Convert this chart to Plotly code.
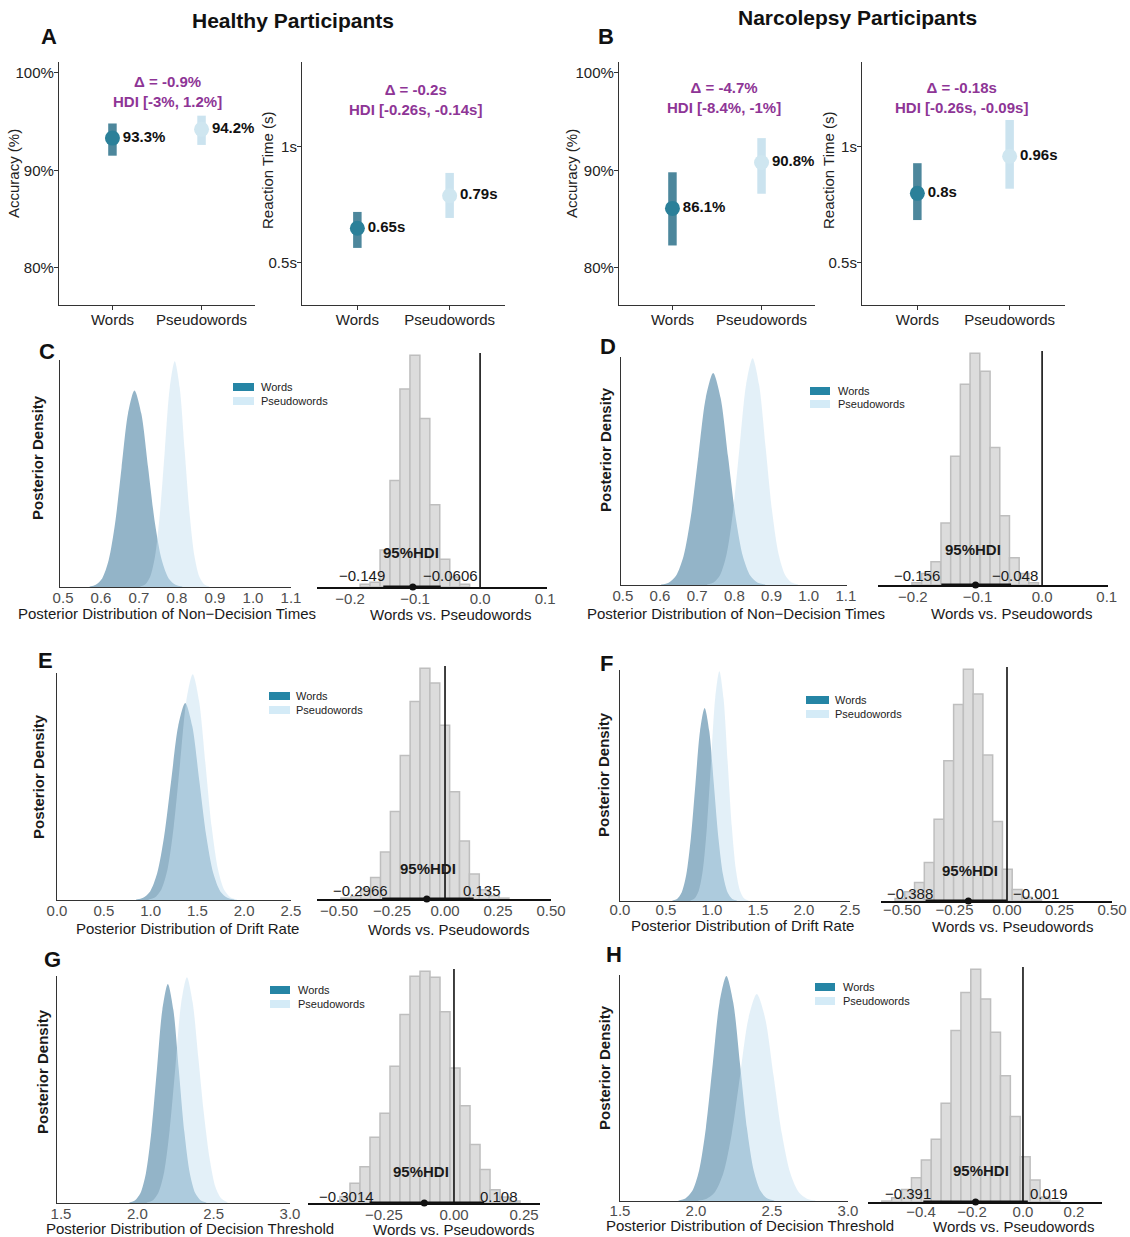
import plotly.graph_objects as go

W, H = 1130, 1237
FONT = "Liberation Sans"

# ---------------- data ----------------
conditions = ["Words", "Pseudowords"]
cond_pos = [1, 2]

# Row 1 : behavioural summaries (posterior mean + HDI)
acc_healthy = [93.3, 94.2]
acc_healthy_lo = [91.5, 92.6]
acc_healthy_hi = [94.8, 95.6]
rt_healthy = [0.65, 0.79]
rt_healthy_lo = [0.565, 0.694]
rt_healthy_hi = [0.72, 0.888]
acc_narco = [86.1, 90.8]
acc_narco_lo = [82.3, 87.6]
acc_narco_hi = [89.8, 93.3]
rt_narco = [0.80, 0.96]
rt_narco_lo = [0.685, 0.82]
rt_narco_hi = [0.93, 1.116]
# differences: delta, HDI low, HDI high
acc_healthy_diff = [-0.9, -3, 1.2]
rt_healthy_diff = [-0.2, -0.26, -0.14]
acc_narco_diff = [-4.7, -8.4, -1]
rt_narco_diff = [-0.18, -0.26, -0.09]

# Posterior densities (relative height)
ndt_h_words_x = [0.570, 0.586, 0.603, 0.620, 0.637, 0.654, 0.671, 0.688, 0.706, 0.724, 0.742, 0.760, 0.778, 0.796, 0.814]
ndt_h_words_y = [0.002, 0.010, 0.038, 0.118, 0.282, 0.528, 0.768, 0.870, 0.768, 0.528, 0.282, 0.118, 0.038, 0.010, 0.002]
ndt_h_pseudo_x = [0.703, 0.716, 0.729, 0.742, 0.755, 0.768, 0.781, 0.794, 0.807, 0.820, 0.833, 0.846, 0.859, 0.872, 0.885]
ndt_h_pseudo_y = [0.002, 0.011, 0.044, 0.135, 0.325, 0.607, 0.883, 1.000, 0.883, 0.607, 0.325, 0.135, 0.044, 0.011, 0.002]
ndt_n_words_x = [0.603, 0.623, 0.643, 0.663, 0.683, 0.703, 0.723, 0.743, 0.763, 0.783, 0.803, 0.823, 0.843, 0.863, 0.883]
ndt_n_words_y = [0.002, 0.010, 0.041, 0.126, 0.303, 0.566, 0.824, 0.934, 0.824, 0.566, 0.303, 0.126, 0.041, 0.010, 0.002]
ndt_n_pseudo_x = [0.7265, 0.744, 0.7615, 0.779, 0.7965, 0.814, 0.8315, 0.849, 0.8665, 0.884, 0.9015, 0.919, 0.9365, 0.954, 0.9715]
ndt_n_pseudo_y = [0.002, 0.011, 0.044, 0.135, 0.325, 0.607, 0.883, 1.000, 0.883, 0.607, 0.325, 0.135, 0.044, 0.011, 0.002]

drift_h_words_x = [0.845, 0.920, 0.995, 1.070, 1.145, 1.220, 1.295, 1.370, 1.445, 1.520, 1.595, 1.670, 1.745, 1.820, 1.895]
drift_h_words_y = [0.002, 0.010, 0.038, 0.118, 0.283, 0.529, 0.770, 0.872, 0.770, 0.529, 0.283, 0.118, 0.038, 0.010, 0.002]
drift_h_pseudo_x = [0.977, 1.045, 1.112, 1.180, 1.247, 1.315, 1.382, 1.450, 1.517, 1.585, 1.652, 1.720, 1.787, 1.855, 1.922]
drift_h_pseudo_y = [0.002, 0.011, 0.044, 0.135, 0.325, 0.607, 0.883, 1.000, 0.883, 0.607, 0.325, 0.135, 0.044, 0.011, 0.002]
drift_n_words_x = [0.570, 0.620, 0.670, 0.720, 0.770, 0.820, 0.870, 0.920, 0.970, 1.020, 1.070, 1.120, 1.170, 1.220, 1.270]
drift_n_words_y = [0.002, 0.009, 0.037, 0.114, 0.273, 0.509, 0.741, 0.840, 0.741, 0.509, 0.273, 0.114, 0.037, 0.009, 0.002]
drift_n_pseudo_x = [0.765, 0.810, 0.855, 0.900, 0.945, 0.990, 1.035, 1.080, 1.125, 1.170, 1.215, 1.260, 1.305, 1.350, 1.395]
drift_n_pseudo_y = [0.002, 0.011, 0.044, 0.135, 0.325, 0.607, 0.883, 1.000, 0.883, 0.607, 0.325, 0.135, 0.044, 0.011, 0.002]

thr_h_words_x = [1.948, 1.984, 2.020, 2.056, 2.092, 2.128, 2.164, 2.200, 2.236, 2.272, 2.308, 2.344, 2.380, 2.416, 2.452]
thr_h_words_y = [0.002, 0.011, 0.043, 0.131, 0.315, 0.588, 0.856, 0.970, 0.856, 0.588, 0.315, 0.131, 0.043, 0.011, 0.002]
thr_h_pseudo_x = [2.062, 2.100, 2.137, 2.175, 2.212, 2.250, 2.287, 2.325, 2.362, 2.400, 2.437, 2.475, 2.512, 2.550, 2.590]
thr_h_pseudo_y = [0.002, 0.011, 0.044, 0.135, 0.325, 0.607, 0.883, 1.000, 0.890, 0.640, 0.390, 0.190, 0.070, 0.020, 0.003]
thr_n_words_x = [1.885, 1.930, 1.975, 2.020, 2.065, 2.110, 2.155, 2.200, 2.245, 2.290, 2.335, 2.380, 2.425, 2.470, 2.515]
thr_n_words_y = [0.002, 0.011, 0.044, 0.135, 0.325, 0.607, 0.883, 1.000, 0.883, 0.607, 0.325, 0.135, 0.044, 0.011, 0.002]
thr_n_pseudo_x = [2.015, 2.070, 2.125, 2.180, 2.235, 2.290, 2.345, 2.400, 2.455, 2.510, 2.565, 2.620, 2.675, 2.730, 2.785]
thr_n_pseudo_y = [0.002, 0.010, 0.040, 0.124, 0.299, 0.558, 0.812, 0.920, 0.812, 0.558, 0.299, 0.124, 0.040, 0.010, 0.002]

# Difference histograms (bin centres, relative counts) + HDI [low, high, median]
ndt_h_diff_bins = [-0.177, -0.1617, -0.1463, -0.131, -0.1157, -0.1003, -0.085, -0.0697, -0.0543, -0.039, -0.0237]
ndt_h_diff_counts = [0.012, 0.020, 0.160, 0.460, 0.855, 1.000, 0.727, 0.355, 0.120, 0.043, 0.012]
ndt_h_hdi = [-0.149, -0.0606, -0.1035]
ndt_n_diff_bins = [-0.194, -0.179, -0.1645, -0.149, -0.134, -0.119, -0.104, -0.088, -0.073, -0.058, -0.043, -0.028, -0.013]
ndt_n_diff_counts = [0.010, 0.050, 0.100, 0.268, 0.556, 0.866, 1.000, 0.923, 0.594, 0.299, 0.118, 0.050, 0.010]
ndt_n_hdi = [-0.156, -0.048, -0.103]
drift_h_diff_bins = [-0.4675, -0.4209, -0.3743, -0.3277, -0.2811, -0.2345, -0.1879, -0.1413, -0.0947, -0.0481, -0.0015, 0.0451, 0.0917, 0.1383, 0.1849, 0.2315, 0.2781]
drift_h_diff_counts = [0.004, 0.011, 0.043, 0.093, 0.204, 0.379, 0.622, 0.856, 1.000, 0.936, 0.753, 0.465, 0.251, 0.108, 0.040, 0.014, 0.004]
drift_h_hdi = [-0.2966, 0.135, -0.086]
drift_n_diff_bins = [-0.51, -0.4635, -0.417, -0.3705, -0.324, -0.2775, -0.231, -0.1845, -0.138, -0.0915, -0.045, 0.0015, 0.048, 0.0945, 0.141]
drift_n_diff_counts = [0.011, 0.040, 0.080, 0.166, 0.353, 0.605, 0.848, 1.000, 0.893, 0.630, 0.343, 0.137, 0.050, 0.016, 0.004]
drift_n_hdi = [-0.388, -0.001, -0.184]
thr_h_diff_bins = [-0.389, -0.3533, -0.3176, -0.2819, -0.2462, -0.2105, -0.1748, -0.1391, -0.1034, -0.0677, -0.032, 0.0037, 0.0394, 0.0751, 0.1108, 0.1465, 0.1822, 0.2179]
thr_h_diff_counts = [0.028, 0.085, 0.156, 0.284, 0.387, 0.590, 0.814, 0.979, 1.000, 0.974, 0.825, 0.583, 0.420, 0.253, 0.145, 0.057, 0.026, 0.009]
thr_h_hdi = [-0.3014, 0.108, -0.106]
thr_n_diff_bins = [-0.5345, -0.4957, -0.4569, -0.4181, -0.3793, -0.3405, -0.3017, -0.2629, -0.2241, -0.1853, -0.1465, -0.1077, -0.0689, -0.0301, 0.0087, 0.0475, 0.0863, 0.1251]
thr_n_diff_counts = [0.004, 0.018, 0.054, 0.104, 0.181, 0.270, 0.424, 0.737, 0.900, 1.000, 0.872, 0.730, 0.543, 0.367, 0.195, 0.095, 0.021, 0.004]
thr_n_hdi = [-0.391, 0.019, -0.186]

# ---------------- styling ----------------
DOT_COLORS = ["#2B8099", "#CFE6F0"]
BAR_COLORS = ["rgba(52,118,142,0.88)", "rgba(200,226,238,0.95)"]
PURPLE = "#8E3596"
WORDS_FILL = "rgb(147,180,200)"
PSEUDO_FILL = "rgba(199,225,241,0.5)"
LEG_WORDS = "#2585A5"
LEG_PSEUDO = "#D4EBF7"
TICK_GRAY = "#4D4D4D"

fig = go.Figure()
layout = dict(width=W, height=H, margin=dict(l=0, r=0, t=0, b=0, pad=0, autoexpand=False),
              paper_bgcolor="white", plot_bgcolor="white", showlegend=False,
              font=dict(family=FONT, size=15, color="#1a1a1a"))
annotations = []
shapes = []


def px(x):
    return x / W


def py(y):
    return 1 - y / H


def axn(i):
    return "" if i == 1 else str(i)


def add_axes(i, box, xkw, ykw):
    n = axn(i)
    l, r, t, b = box
    layout["xaxis" + n] = dict(domain=[px(l), px(r)], anchor="y" + n, showgrid=False, zeroline=False,
                               automargin=False, **xkw)
    layout["yaxis" + n] = dict(domain=[py(b), py(t)], anchor="x" + n, showgrid=False, zeroline=False,
                               automargin=False, **ykw)


def text(x, y, s, size=15, color="#1a1a1a", bold=False, angle=0, xanchor="center", xref="paper"):
    annotations.append(dict(x=x if xref != "paper" else px(x), y=py(y), xref=xref, yref="paper",
                            text=("<b>%s</b>" % s) if bold else s, showarrow=False,
                            font=dict(size=size, color=color, family=FONT), textangle=angle,
                            xanchor=xanchor, yanchor="middle"))


def point_panel(i, box, yrange, ytv, ytt, vals, lo, hi, unit, diff, ann_xy):
    n = axn(i)
    axis_common = dict(showline=True, linecolor="#333333", linewidth=1.2, ticks="outside",
                       ticklen=4, tickcolor="#333333", tickfont=dict(size=15, color="#222222"),
                       ticklabelstandoff=-3)
    add_axes(i, box, dict(range=[0.4, 2.6], tickvals=cond_pos, ticktext=conditions, **axis_common),
             dict(range=yrange, tickvals=ytv, ticktext=ytt, **axis_common))
    for k in range(2):
        lab = ("%g%%" % vals[k]) if unit == "%" else ("%gs" % vals[k])
        fig.add_trace(go.Scatter(
            x=[cond_pos[k]], y=[vals[k]], mode="markers+text", text=["<b>%s</b>" % lab],
            textposition="middle right", textfont=dict(size=15, color="#111111", family=FONT),
            marker=dict(size=15, color=DOT_COLORS[k]),
            error_y=dict(type="data", symmetric=False, array=[hi[k] - vals[k]],
                         arrayminus=[vals[k] - lo[k]], thickness=8.5, width=0, color=BAR_COLORS[k]),
            xaxis="x" + n, yaxis="y" + n, cliponaxis=False))
    d, dl, dh = diff
    s = "Δ = %g%s<br>HDI [%g%s, %g%s]" % (d, unit, dl, unit, dh, unit)
    annotations.append(dict(x=px(ann_xy[0]), y=py(ann_xy[1]), xref="paper", yref="paper", text="<b>%s</b>" % s,
                            showarrow=False, font=dict(size=15, color=PURPLE, family=FONT),
                            xanchor="center", yanchor="middle", align="center"))


def density_panel(i, box, xrange, tv, wx, wy, sx, sy, legend, standoff=-3):
    n = axn(i)
    add_axes(i, box,
             dict(range=xrange, tickvals=tv, ticktext=["%.1f" % v for v in tv], showline=True,
                  linecolor="#333333", linewidth=1.2, ticks="", tickfont=dict(size=15, color=TICK_GRAY),
                  ticklabelstandoff=standoff),
             dict(range=[0, 1.005], showline=True, linecolor="#333333", linewidth=1.2,
                  showticklabels=False, ticks=""))
    fig.add_trace(go.Scatter(x=wx, y=wy, mode="lines", line=dict(width=0, shape="spline", smoothing=0.8),
                             fill="tozeroy", fillcolor=WORDS_FILL, xaxis="x" + n, yaxis="y" + n))
    fig.add_trace(go.Scatter(x=sx, y=sy, mode="lines", line=dict(width=0, shape="spline", smoothing=0.8),
                             fill="tozeroy", fillcolor=PSEUDO_FILL, xaxis="x" + n, yaxis="y" + n))
    bx0, bx1, y1, y2, tx = legend
    for yy, col, lab in [(y1, LEG_WORDS, "Words"), (y2, LEG_PSEUDO, "Pseudowords")]:
        shapes.append(dict(type="rect", xref="paper", yref="paper", x0=px(bx0), x1=px(bx1),
                           y0=py(yy + 4), y1=py(yy - 4), fillcolor=col, line=dict(width=0)))
        text(tx, yy, lab, size=11, color="#222222", xanchor="left")


def hist_panel(i, box, xrange, tv, tt, bins, counts, hdi, lab_x, lab_y, hdi_xy, standoff=-3):
    n = axn(i)
    add_axes(i, box,
             dict(range=xrange, tickvals=tv, ticktext=tt, showline=True, linecolor="#111111",
                  linewidth=1.6, ticks="", tickfont=dict(size=15, color=TICK_GRAY),
                  ticklabelstandoff=standoff),
             dict(range=[0, 1.01], visible=False))
    bw = bins[1] - bins[0]
    fig.add_trace(go.Bar(x=bins, y=counts, width=bw, marker=dict(color="#DCDCDC", line=dict(color="#BEBEBE", width=1.5)),
                         xaxis="x" + n, yaxis="y" + n))
    shapes.append(dict(type="line", xref="x" + n, yref="y" + n + " domain", x0=0, x1=0, y0=0, y1=1,
                       line=dict(color="#111111", width=1.6)))
    lo, hi, med = hdi
    fig.add_trace(go.Scatter(x=[med], y=[0], mode="markers", marker=dict(size=7, color="#111111"),
                             error_x=dict(type="data", symmetric=False, array=[hi - med], arrayminus=[med - lo],
                                          thickness=3, width=0, color="#111111"),
                             cliponaxis=False, xaxis="x" + n, yaxis="y" + n))
    for v, xx in zip([lo, hi], lab_x):
        text(xx, lab_y, ("%g" % v).replace("-", "−"), size=15, color="#1a1a1a", xref="x" + n)
    text(hdi_xy[0], hdi_xy[1], "95%HDI", size=15, bold=True, xref="x" + n)


# ---------------- Row 1 ----------------
acc_tv = [80, 90, 100]
acc_tt = ["80%", "90%", "100%"]
rt_tv = [0.5, 1.0]
rt_tt = ["0.5s", "1s"]
point_panel(1, (59, 255, 62, 305), [76.2, 101.1], acc_tv, acc_tt, acc_healthy, acc_healthy_lo, acc_healthy_hi, "%",
            acc_healthy_diff, (167, 91))
point_panel(2, (302, 505, 62, 305), [0.319, 1.366], rt_tv, rt_tt, rt_healthy, rt_healthy_lo, rt_healthy_hi, "s",
            rt_healthy_diff, (415, 99))
point_panel(3, (619, 815, 62, 305), [76.2, 101.1], acc_tv, acc_tt, acc_narco, acc_narco_lo, acc_narco_hi, "%",
            acc_narco_diff, (724, 97.5))
point_panel(4, (862, 1065, 62, 305), [0.319, 1.366], rt_tv, rt_tt, rt_narco, rt_narco_lo, rt_narco_hi, "s",
            rt_narco_diff, (962, 97.5))
text(14, 174, "Accuracy (%)", size=15, color="#222222", angle=-90)
text(268, 170, "Reaction Time (s)", size=15, color="#222222", angle=-90)
text(572, 174, "Accuracy (%)", size=15, color="#222222", angle=-90)
text(829, 170, "Reaction Time (s)", size=15, color="#222222", angle=-90)
text(293, 20, "Healthy Participants", size=21, bold=True, color="#111111")
text(857, 18, "Narcolepsy Participants", size=21, bold=True, color="#111111")

# ---------------- Rows 2-4 ----------------
ndt_tv = [0.5, 0.6, 0.7, 0.8, 0.9, 1.0, 1.1]
drift_tv = [0.0, 0.5, 1.0, 1.5, 2.0, 2.5]
thr_tv = [1.5, 2.0, 2.5, 3.0]

density_panel(5, (60, 291, 360, 587), [0.492, 1.1], ndt_tv, ndt_h_words_x, ndt_h_words_y,
              ndt_h_pseudo_x, ndt_h_pseudo_y, (233, 254, 387, 401, 259))
density_panel(7, (621, 847, 357, 585), [0.495, 1.103], ndt_tv, ndt_n_words_x, ndt_n_words_y,
              ndt_n_pseudo_x, ndt_n_pseudo_y, (810, 830, 391, 404, 836))
density_panel(9, (57, 291, 673, 900), [0.0, 2.5], drift_tv, drift_h_words_x, drift_h_words_y,
              drift_h_pseudo_x, drift_h_pseudo_y, (269, 290, 696, 710, 294))
density_panel(11, (620, 850, 670, 901), [0.0, 2.5], drift_tv, drift_n_words_x, drift_n_words_y,
              drift_n_pseudo_x, drift_n_pseudo_y, (806, 829, 700, 714, 833), standoff=-5)
density_panel(13, (57, 290, 976, 1203), [1.474, 3.0], thr_tv, thr_h_words_x, thr_h_words_y,
              thr_h_pseudo_x, thr_h_pseudo_y, (270, 290, 990, 1004, 296))
density_panel(15, (620, 848, 975, 1201), [1.5, 3.0], thr_tv, thr_n_words_x, thr_n_words_y,
              thr_n_pseudo_x, thr_n_pseudo_y, (815, 835, 987, 1001, 841), standoff=-4)

tv1 = [-0.2, -0.1, 0.0, 0.1]
tt1 = ["−0.2", "−0.1", "0.0", "0.1"]
tv2 = [-0.5, -0.25, 0.0, 0.25, 0.5]
tt2 = ["−0.50", "−0.25", "0.00", "0.25", "0.50"]
tv3 = [-0.25, 0.0, 0.25]
tt3 = ["−0.25", "0.00", "0.25"]
tv4 = [-0.4, -0.2, 0.0, 0.2]
tt4 = ["−0.4", "−0.2", "0.0", "0.2"]

hist_panel(6, (317, 547, 353, 587), [-0.251, 0.103], tv1, tt1, ndt_h_diff_bins, ndt_h_diff_counts, ndt_h_hdi,
           [-0.1815, -0.046], 576, (-0.107, 552))
hist_panel(8, (878, 1108, 351, 585), [-0.254, 0.102], tv1, tt1, ndt_n_diff_bins, ndt_n_diff_counts, ndt_n_hdi,
           [-0.194, -0.042], 575, (-0.107, 549))
hist_panel(10, (317, 551, 666, 899), [-0.604, 0.5], tv2, tt2, drift_h_diff_bins, drift_h_diff_counts, drift_h_hdi,
           [-0.40, 0.173], 891, (-0.08, 868))
hist_panel(12, (881, 1112, 667, 901), [-0.60, 0.5], tv2, tt2, drift_n_diff_bins, drift_n_diff_counts, drift_n_hdi,
           [-0.462, 0.138], 893, (-0.176, 870), standoff=-6)
hist_panel(14, (308, 540, 969, 1203), [-0.521, 0.307], tv3, tt3, thr_h_diff_bins, thr_h_diff_counts, thr_h_hdi,
           [-0.383, 0.162], 1196, (-0.119, 1171))
hist_panel(16, (868, 1102, 967, 1202), [-0.608, 0.31], tv4, tt4, thr_n_diff_bins, thr_n_diff_counts, thr_n_hdi,
           [-0.45, 0.103], 1193, (-0.166, 1170), standoff=-5)

# axis titles
xt = [(167, 613, "Posterior Distribution of Non−Decision Times"), (450, 614, "Words vs. Pseudowords"),
      (736, 613, "Posterior Distribution of Non−Decision Times"), (1011, 613, "Words vs. Pseudowords"),
      (187, 928, "Posterior Distribution of Drift Rate"), (448, 929, "Words vs. Pseudowords"),
      (742, 925, "Posterior Distribution of Drift Rate"), (1012, 926, "Words vs. Pseudowords"),
      (190, 1228, "Posterior Distribution of Decision Threshold"), (453, 1229, "Words vs. Pseudowords"),
      (750, 1225, "Posterior Distribution of Decision Threshold"), (1013, 1226, "Words vs. Pseudowords")]
for x_, y_, s_ in xt:
    text(x_, y_, s_, size=15, color="#1a1a1a")
for x_, y_ in [(38, 458), (606, 450), (38, 777), (603, 775), (42, 1072), (604, 1068)]:
    text(x_, y_, "Posterior Density", size=15, bold=True, angle=-90)

for s_, x_, y_ in [("A", 49, 37), ("B", 606, 37), ("C", 47, 352), ("D", 608, 346),
                   ("E", 45, 660), ("F", 606, 663), ("G", 52, 960), ("H", 614, 955)]:
    text(x_, y_, s_, size=22, bold=True, color="#111111")

layout["annotations"] = annotations
layout["shapes"] = shapes
fig.update_layout(**layout)
fig.write_html("out.html")
